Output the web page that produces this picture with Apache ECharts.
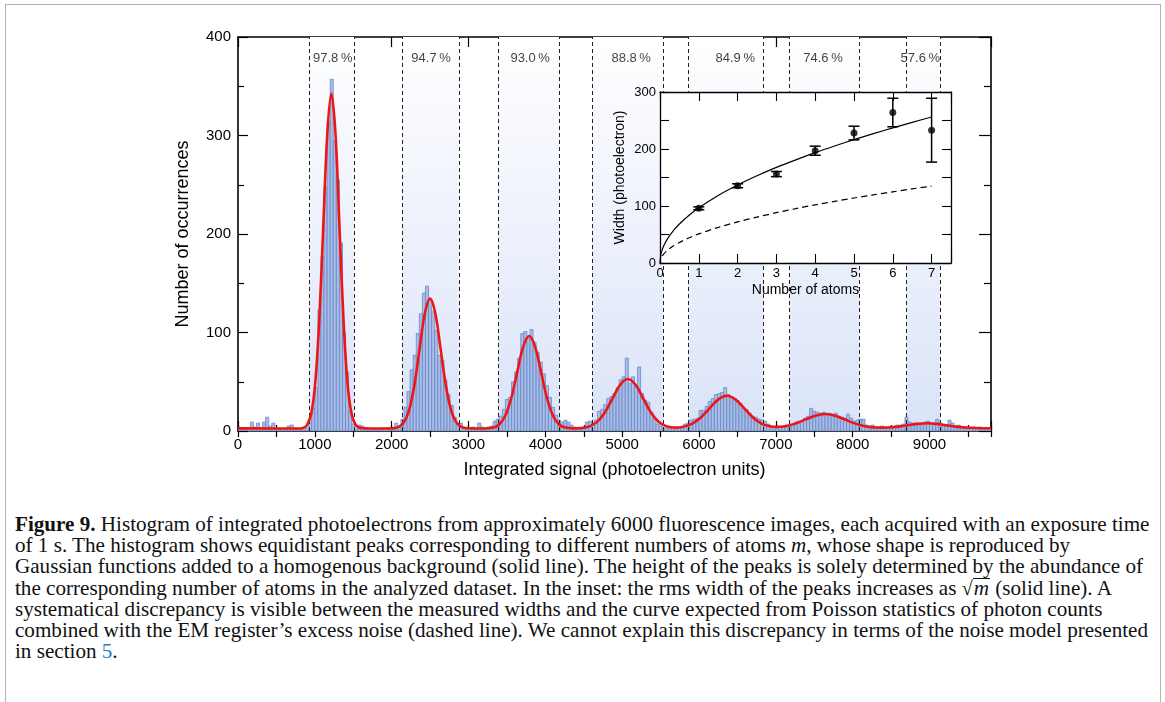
<!DOCTYPE html>
<html>
<head>
<meta charset="utf-8">
<script src="https://cdn.jsdelivr.net/npm/echarts/dist/echarts.min.js"></script>
<style>
  html, body { margin: 0; padding: 0; background: #fff; }
  #page { position: relative; width: 1165px; height: 702px; overflow: hidden; }
  #frame { position: absolute; left: 5px; top: 4px; width: 1154px; height: 760px; border: 1px solid #b4b4b4; }
  #chart { position: absolute; left: 0; top: 0; width: 1165px; height: 510px; }
  #caption { position: absolute; left: 15px; top: 514px; font-family: "Liberation Serif", "DejaVu Serif", serif; font-size: 18px; line-height: 21.2px; color: #111; }
  #caption .ln { white-space: nowrap; width: max-content; }
  #caption b { font-weight: bold; }
  .rad { font-size: 0.95em; }
  .ov { display: inline-block; line-height: 0.85; border-top: 1px solid #111; padding: 1px 1px 0 1px; }
  .ref { color: #2b7cc0; }
</style>
</head>
<body>
<div id="page">
  <div id="frame"></div>
  <div id="chart"></div>
  <div id="caption">
    <div class="ln"><b>Figure 9.</b> Histogram of integrated photoelectrons from approximately 6000 fluorescence images, each acquired with an exposure time</div>
    <div class="ln">of 1 s. The histogram shows equidistant peaks corresponding to different numbers of atoms <i>m</i>, whose shape is reproduced by</div>
    <div class="ln">Gaussian functions added to a homogenous background (solid line). The height of the peaks is solely determined by the abundance of</div>
    <div class="ln">the corresponding number of atoms in the analyzed dataset. In the inset: the rms width of the peaks increases as <span class="rad">√</span><span class="ov"><i>m</i></span> (solid line). A</div>
    <div class="ln">systematical discrepancy is visible between the measured widths and the curve expected from Poisson statistics of photon counts</div>
    <div class="ln">combined with the EM register’s excess noise (dashed line). We cannot explain this discrepancy in terms of the noise model presented</div>
    <div class="ln">in section <span class="ref">5</span>.</div>
  </div>
</div>
<script>
// ---- Histogram of integrated signal (bins of BIN_WIDTH photoelectrons, starting at 0) ----
const BIN_WIDTH = 40;
const counts = [
  1, 2, 2, 3, 9, 4, 8, 3, 9, 14,
  5, 8, 3, 2, 2, 2, 5, 6, 3, 2,
  1, 2, 3, 12, 23, 44, 123, 177, 248, 314,
  357, 295, 255, 191, 100, 60, 20, 7, 2, 6,
  5, 2, 1, 1, 2, 1, 2, 3, 3, 2,
  2, 8, 4, 12, 24, 40, 62, 77, 99, 119,
  140, 147, 133, 121, 102, 77, 72, 52, 37, 26,
  14, 7, 8, 4, 2, 3, 4, 3, 8, 4,
  3, 4, 5, 10, 12, 15, 22, 32, 34, 50,
  60, 74, 99, 101, 94, 103, 90, 80, 70, 58,
  46, 34, 24, 16, 11, 9, 11, 9, 6, 4,
  3, 2, 3, 9, 10, 8, 11, 20, 22, 27,
  33, 35, 38, 44, 52, 55, 74, 48, 55, 45,
  65, 38, 31, 29, 19, 12, 7, 5, 3, 3,
  3, 2, 3, 3, 4, 7, 8, 11, 12, 13,
  21, 21, 25, 30, 33, 37, 38, 39, 44, 37,
  34, 33, 31, 28, 24, 22, 18, 15, 14, 12,
  11, 10, 7, 5, 4, 3, 4, 4, 6, 5,
  7, 9, 10, 10, 13, 15, 23, 20, 19, 18,
  19, 18, 18, 17, 18, 15, 14, 13, 17, 13,
  10, 11, 12, 12, 6, 5, 6, 4, 4, 5,
  3, 4, 5, 4, 6, 6, 7, 14, 9, 8,
  8, 7, 7, 9, 10, 8, 7, 12, 8, 5,
  6, 11, 8, 5, 6, 4, 3, 4, 3, 4,
  3, 4, 2, 3, 2
];

// ---- Gaussian-sum fit over a homogeneous background ----
const fitX = [0, 400, 800, 870, 900, 953, 1005, 1058, 1110, 1163, 1215, 1268, 1320, 1373, 1425, 1478, 1530, 1600, 1800, 2000,
  2086, 2155, 2224, 2293, 2362, 2431, 2500, 2569, 2638, 2707, 2776, 2845, 2914, 3000, 3150, 3321, 3399, 3477, 3555, 3633,
  3711, 3789, 3867, 3945, 4023, 4101, 4179, 4257, 4370, 4474, 4574, 4674, 4774, 4874, 4974, 5074, 5174, 5274, 5374, 5474,
  5574, 5700, 5793, 5907, 6021, 6135, 6249, 6363, 6477, 6591, 6705, 6819, 6933, 7000, 7123, 7253, 7383, 7513, 7643, 7773,
  7903, 8033, 8163, 8293, 8400, 8467, 8592, 8717, 8842, 8967, 9092, 9217, 9342, 9467, 9592, 9800];
const fitY = [2.7, 2.6, 2.6, 4.0, 6.3, 17.4, 48.5, 112.9, 208.7, 302.5, 342.5, 302.5, 208.7, 112.9, 48.5, 17.4, 6.3, 3.0, 2.5, 2.7,
  4.0, 8.3, 20.4, 45.4, 82.6, 119, 134.5, 119, 82.6, 45.4, 20.4, 8.3, 4.0, 2.8, 2.5, 3.5, 6.6, 15.2, 33, 59.5,
  85.5, 96.5, 85.5, 59.5, 33, 15.2, 6.6, 3.5, 2.7, 3.1, 4.7, 9.3, 18.8, 33, 46.9, 52.8, 46.9, 33, 18.8, 9.3,
  4.8, 3.4, 4.3, 7.3, 13.5, 22.8, 31.9, 35.8, 31.9, 22.8, 13.5, 7.3, 4.6, 4.2, 4.9, 7.5, 11.6, 15.6, 17.3, 15.6,
  11.6, 7.5, 4.8, 3.5, 3.4, 3.5, 4.4, 5.8, 7.2, 7.8, 7.2, 5.8, 4.4, 3.5, 3.0, 2.8];

// ---- Counting windows for each atom number, with their fidelities ----
const bandStart = [924, 2135, 3385, 4609, 5863, 7179, 8698];
const bandEnd = [1510, 2873, 4184, 5530, 6840, 8090, 9141];
const bandLabel = ['97.8\u2009%', '94.7\u2009%', '93.0\u2009%', '88.8\u2009%', '84.9\u2009%', '74.6\u2009%', '57.6\u2009%'];
const bandLabelX = [1233, 2513, 3802, 5117, 6471, 7613, 8880];
const BAND_LABEL_Y = 378;

// ---- Inset: peak width versus number of atoms ----
const atoms = [1, 2, 3, 4, 5, 6, 7];
const widths = [96, 135.5, 156, 197, 228, 264, 233];
const widthErr = [2.5, 3.5, 4.5, 8, 12, 25, 56];
const sqrtFitM = [0, 0.02, 0.05, 0.1, 0.2, 0.35, 0.5, 0.75, 1, 1.5, 2, 2.5, 3, 3.5, 4, 4.5, 5, 5.5, 6, 6.5, 7];
const sqrtFitW = [0, 13.7, 21.6, 30.6, 43.3, 57.3, 68.4, 83.8, 96.8, 118.5, 136.9, 153, 167.7, 181, 193.6, 205.3, 216.4, 227, 237, 246.8, 256.1];
const poissonM = [0.06, 0.1, 0.2, 0.35, 0.5, 0.75, 1, 1.5, 2, 2.5, 3, 3.5, 4, 4.5, 5, 5.5, 6, 6.5, 7];
const poissonW = [12.5, 16.1, 22.8, 30.2, 36.1, 44.2, 51, 62.5, 72.1, 80.6, 88.3, 95.4, 102, 108.2, 114, 119.6, 124.9, 130, 134.9];

// ---- Caption: size the serif text so the first line spans the column ----
(function fitCaption() {
  const cap = document.getElementById('caption');
  const first = cap.querySelector('.ln');
  const w = first.getBoundingClientRect().width;
  if (w > 0) cap.style.fontSize = (18 * 1135 / w).toFixed(2) + 'px';
})();

const FONT = '"Liberation Sans", Arial, Helvetica, sans-serif';
const BLACK = '#000';

const histData = counts.map((c, i) => [i * BIN_WIDTH, (i + 1) * BIN_WIDTH, c]);
const fitData = fitX.map((x, i) => [x, fitY[i]]);
const boundaries = bandStart.concat(bandEnd).map(v => ({ xAxis: v }));

function frameAxis(extra) {
  return Object.assign({
    type: 'value',
    splitLine: { show: false },
    axisLine: { show: true, onZero: false, lineStyle: { color: BLACK, width: 1.6 } },
    axisTick: { show: true, inside: true, length: 10, lineStyle: { color: BLACK, width: 1.2 } },
    axisLabel: { show: false },
    axisPointer: { show: false }
  }, extra);
}

const chart = echarts.init(document.getElementById('chart'), null, { renderer: 'canvas' });

chart.setOption({
  animation: false,
  backgroundColor: 'transparent',
  textStyle: { fontFamily: FONT },
  grid: [
    { left: 238, top: 37, width: 753, height: 394, show: false },
    { left: 660, top: 92, width: 291, height: 171, show: true, backgroundColor: '#fff', borderWidth: 0, z: 10 }
  ],
  xAxis: [
    frameAxis({
      gridIndex: 0, position: 'bottom', min: 0, max: 9800, interval: 1000,
      axisLabel: { show: true, margin: 6, color: BLACK, fontSize: 15, fontFamily: FONT,
        formatter: v => (v % 1000 === 0 ? String(v) : '') },
      name: 'Integrated signal (photoelectron units)', nameLocation: 'middle', nameGap: 30,
      nameTextStyle: { color: BLACK, fontSize: 18, fontFamily: FONT }
    }),
    frameAxis({ gridIndex: 0, position: 'bottom', min: 0, max: 9800, interval: 500,
      axisLine: { show: false }, axisTick: { show: true, inside: true, length: 6, lineStyle: { color: BLACK, width: 1.2 } } }),
    frameAxis({ gridIndex: 0, position: 'top', min: 0, max: 9800, interval: 1000 }),
    frameAxis({ gridIndex: 0, position: 'top', min: 0, max: 9800, interval: 500,
      axisLine: { show: false }, axisTick: { show: true, inside: true, length: 6, lineStyle: { color: BLACK, width: 1.2 } } }),
    frameAxis({
      gridIndex: 1, position: 'bottom', min: 0, max: 7.5, interval: 1, z: 11,
      axisLine: { show: true, onZero: false, lineStyle: { color: BLACK, width: 1.3 } },
      axisTick: { show: true, inside: true, length: 9, lineStyle: { color: BLACK, width: 1.1 } },
      axisLabel: { show: true, margin: 4, color: BLACK, fontSize: 13, fontFamily: FONT,
        formatter: v => (Number.isInteger(v) ? String(v) : '') },
      name: 'Number of atoms', nameLocation: 'middle', nameGap: 20,
      nameTextStyle: { color: BLACK, fontSize: 14, fontFamily: FONT }
    }),
    frameAxis({
      gridIndex: 1, position: 'top', min: 0, max: 7.5, interval: 1, z: 11,
      axisLine: { show: true, onZero: false, lineStyle: { color: BLACK, width: 1.3 } },
      axisTick: { show: true, inside: true, length: 9, lineStyle: { color: BLACK, width: 1.1 } }
    })
  ],
  yAxis: [
    frameAxis({
      gridIndex: 0, position: 'left', min: 0, max: 400, interval: 100,
      minorTick: { show: true, splitNumber: 2, length: 6, lineStyle: { color: BLACK, width: 1.2 } },
      axisLabel: { show: true, margin: 7, color: BLACK, fontSize: 15, fontFamily: FONT },
      name: 'Number of occurrences', nameLocation: 'middle', nameGap: 46, nameRotate: 90,
      nameTextStyle: { color: BLACK, fontSize: 18, fontFamily: FONT }
    }),
    frameAxis({
      gridIndex: 0, position: 'right', min: 0, max: 400, interval: 100,
      axisTick: { show: true, inside: true, length: 12, lineStyle: { color: BLACK, width: 1.2 } },
      minorTick: { show: true, splitNumber: 2, length: 7, lineStyle: { color: BLACK, width: 1.2 } }
    }),
    frameAxis({
      gridIndex: 1, position: 'left', min: 0, max: 300, interval: 50, z: 11,
      axisLine: { show: true, onZero: false, lineStyle: { color: BLACK, width: 1.3 } },
      axisTick: { show: true, inside: true, length: 9, lineStyle: { color: BLACK, width: 1.1 } },
      axisLabel: { show: true, margin: 4, color: BLACK, fontSize: 13, fontFamily: FONT,
        formatter: v => (v % 100 === 0 ? String(v) : '') },
      name: 'Width (photoelectron)', nameLocation: 'middle', nameGap: 33, nameRotate: 90,
      nameTextStyle: { color: BLACK, fontSize: 14, fontFamily: FONT }
    }),
    frameAxis({
      gridIndex: 1, position: 'right', min: 0, max: 300, interval: 50, z: 11,
      axisLine: { show: true, onZero: false, lineStyle: { color: BLACK, width: 1.3 } },
      axisTick: { show: true, inside: true, length: 9, lineStyle: { color: BLACK, width: 1.1 } }
    })
  ],
  series: [
    {
      // shaded counting windows
      type: 'line', xAxisIndex: 0, yAxisIndex: 0, data: [], z: 1, silent: true,
      markArea: {
        silent: true, z: 1,
        itemStyle: {
          color: new echarts.graphic.LinearGradient(0, 0, 0, 1, [
            { offset: 0, color: '#ffffff' },
            { offset: 1, color: '#dae3f8' }
          ])
        },
        label: { show: false },
        data: bandStart.map((s, i) => [{ xAxis: s }, { xAxis: bandEnd[i] }])
      }
    },
    {
      // histogram bars
      type: 'custom', xAxisIndex: 0, yAxisIndex: 0, z: 2, clip: true, silent: true,
      data: histData,
      renderItem(params, api) {
        const a = api.coord([api.value(0), api.value(2)]);
        const b = api.coord([api.value(1), 0]);
        return {
          type: 'rect',
          shape: { x: a[0], y: a[1], width: b[0] - a[0], height: b[1] - a[1] },
          style: { fill: '#a9bce4', stroke: '#6789ca', lineWidth: 0.8 }
        };
      }
    },
    {
      // dashed window boundaries
      type: 'line', xAxisIndex: 0, yAxisIndex: 0, data: [], z: 3, silent: true,
      markLine: {
        silent: true, z: 3, symbol: ['none', 'none'],
        lineStyle: { color: '#222', width: 1, type: [4, 3] },
        label: { show: false },
        emphasis: { disabled: true },
        data: boundaries
      }
    },
    {
      // fitted curve
      type: 'line', xAxisIndex: 0, yAxisIndex: 0, z: 4, silent: true,
      data: fitData, smooth: 0.35, symbol: 'none',
      lineStyle: { color: '#f01515', width: 2.6 }
    },
    {
      // fidelity labels above each window
      type: 'scatter', xAxisIndex: 0, yAxisIndex: 0, z: 5, silent: true,
      symbolSize: 1, itemStyle: { color: 'rgba(0,0,0,0)' },
      data: bandLabelX.map((x, i) => ({ value: [x, BAND_LABEL_Y], name: bandLabel[i] })),
      label: { show: true, position: 'inside', formatter: p => p.name, color: '#111', fontSize: 13, fontFamily: FONT }
    },
    {
      // inset: sqrt(m) scaling
      type: 'line', xAxisIndex: 4, yAxisIndex: 2, z: 12, silent: true,
      data: sqrtFitM.map((m, i) => [m, sqrtFitW[i]]), smooth: 0.3, symbol: 'none',
      lineStyle: { color: BLACK, width: 1.2 }
    },
    {
      // inset: Poisson + excess-noise expectation
      type: 'line', xAxisIndex: 4, yAxisIndex: 2, z: 12, silent: true,
      data: poissonM.map((m, i) => [m, poissonW[i]]), smooth: 0.3, symbol: 'none',
      lineStyle: { color: BLACK, width: 1.2, type: [6, 4] }
    },
    {
      // inset: error bars
      type: 'custom', xAxisIndex: 4, yAxisIndex: 2, z: 13, silent: true,
      data: atoms.map((m, i) => [m, widths[i], widthErr[i]]),
      renderItem(params, api) {
        const m = api.value(0), w = api.value(1), e = api.value(2);
        const t = api.coord([m, w + e]);
        const b = api.coord([m, w - e]);
        const h = 5.5;
        const st = { stroke: BLACK, lineWidth: 1.5 };
        return {
          type: 'group',
          children: [
            { type: 'line', shape: { x1: t[0], y1: t[1], x2: b[0], y2: b[1] }, style: st },
            { type: 'line', shape: { x1: t[0] - h, y1: t[1], x2: t[0] + h, y2: t[1] }, style: st },
            { type: 'line', shape: { x1: b[0] - h, y1: b[1], x2: b[0] + h, y2: b[1] }, style: st }
          ]
        };
      }
    },
    {
      // inset: measured widths
      type: 'scatter', xAxisIndex: 4, yAxisIndex: 2, z: 14, silent: true,
      data: atoms.map((m, i) => [m, widths[i]]),
      symbol: 'circle', symbolSize: 7, itemStyle: { color: BLACK }
    }
  ]
});
</script>
</body>
</html>
